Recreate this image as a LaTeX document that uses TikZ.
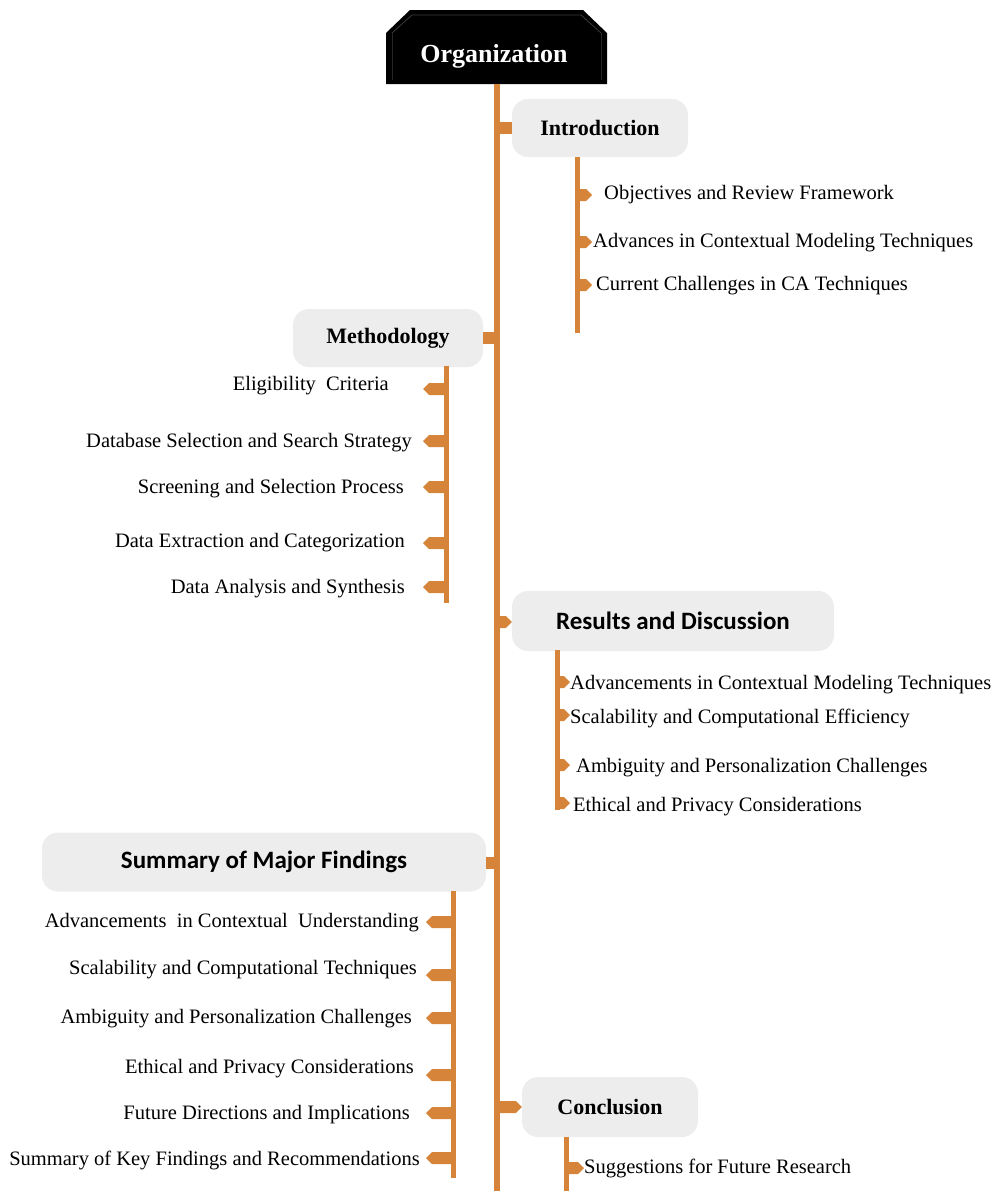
\documentclass[tikz,border=0pt]{standalone}
\usepackage{fontspec}
\setmainfont{Liberation Serif}
\newfontfamily\headsans{Carlito}
\usetikzlibrary{calc}
\definecolor{branch}{HTML}{D6843A}
\definecolor{boxgray}{HTML}{EDEDED}

% pointed stub: from the bar at #1 towards the tip at #2 (same height)
\newcommand\stubtip[2]{%
  \fill[branch] let \p1=(#1), \p2=(#2), \n1={ifthenelse(\x2>\x1,1,-1)} in
    (\x1,\y1+6pt) -- (\x2-\n1*6pt,\y1+6pt) -- (\x2,\y1) --
    (\x2-\n1*6pt,\y1-6pt) -- (\x1,\y1-6pt) -- cycle;}
% flat stub: a plain thick segment between two points
\newcommand\stubflat[2]{%
  \fill[branch] let \p1=(#1), \p2=(#2) in
    (\x1,\y1+6pt) rectangle (\x2,\y1-6pt);}

\begin{document}
\begin{tikzpicture}[x=1pt,y=-1pt,
  item/.style={inner sep=0pt, font=\fontsize{20.5}{20.5}\selectfont},
  serifhead/.style={fill=boxgray, rounded corners=16pt, inner sep=0pt,
    font=\fontsize{22}{22}\selectfont\bfseries},
  sanshead/.style={fill=boxgray, rounded corners=16pt, inner sep=0pt,
    font=\headsans\fontsize{25}{25}\selectfont\bfseries},
  bar/.style={draw=branch, line width=5pt},
  trunk/.style={draw=branch, line width=6pt}]

\useasboundingbox (0,0) rectangle (997,1191);

% ---- root ----
\fill[black] (386,84) -- (386,33) -- (410,10) -- (583,10) -- (607,33) -- (607,84) -- cycle;
\draw[gray!45!black, line width=0.8pt] (392,33) -- (412,15) -- (581,15) -- (601,33);
\draw[gray!30!black, line width=0.8pt] (392,33) -- (392,80) (601,33) -- (601,80);
\node[font=\fontsize{26}{26}\selectfont\bfseries, text=white] (org) at (494,56) {Organization};
\coordinate (orgB) at (497,84);
\coordinate (trunkEnd) at (497,1191);
\draw[trunk] (orgB) -- (trunkEnd);

% tip columns
\coordinate (tipI) at (592,0);
\coordinate (tipM) at (423,0);
\coordinate (tipR) at (570,0);
\coordinate (tipS) at (426,0);
\coordinate (tipC) at (584,0);

% ---- Introduction ----
\node[serifhead, minimum width=176pt, minimum height=58pt] (intro) at (600,128) {Introduction};
\stubflat{orgB |- intro}{intro.west}
\coordinate (ibTop) at (577,157);
\coordinate (ibEnd) at (577,333);
\draw[bar] (ibTop) -- (ibEnd);
\node[item, anchor=west] (i1) at (604,195) {Objectives and Review Framework};
\node[item, anchor=west] (i2) at (593,243) {Advances in Contextual Modeling Techniques};
\node[item, anchor=west] (i3) at (596,286) {Current Challenges in CA Techniques};
\coordinate (i1s) at (0,195);
\coordinate (i2s) at (0,242);
\coordinate (i3s) at (0,285);
\foreach \nm in {i1s,i2s,i3s}{\stubtip{ibTop |- \nm}{tipI |- \nm}}

% ---- Methodology ----
\node[serifhead, minimum width=190pt, minimum height=58pt] (meth) at (388,338) {Methodology};
\stubflat{meth.east}{orgB |- meth.east}
\coordinate (mbTop) at (446,366);
\coordinate (mbEnd) at (446,603);
\draw[bar] (mbTop) -- (mbEnd);
\node[item, anchor=east] (m1) at (389,386) {Eligibility\ \ Criteria};
\node[item, anchor=east] (m2) at (412,443) {Database Selection and Search Strategy};
\node[item, anchor=east] (m3) at (404,489) {Screening and Selection Process};
\node[item, anchor=east] (m4) at (405,543) {Data Extraction and Categorization};
\node[item, anchor=east] (m5) at (405,589) {Data Analysis and Synthesis};
\coordinate (m1s) at (0,389);
\coordinate (m2s) at (0,441);
\coordinate (m3s) at (0,487);
\coordinate (m4s) at (0,543);
\coordinate (m5s) at (0,587);
\foreach \nm in {m1s,m2s,m3s,m4s,m5s}{\stubtip{mbTop |- \nm}{tipM |- \nm}}

% ---- Results and Discussion ----
\node[sanshead, minimum width=322pt, minimum height=60pt] (res) at (673,621) {Results and Discussion};
\coordinate (resJ) at (0,622);
\stubtip{orgB |- resJ}{res.west |- resJ}
\coordinate (rbTop) at (557,650);
\coordinate (rbEnd) at (557,810);
\draw[bar] (rbTop) -- (rbEnd);
\node[item, anchor=west] (r1) at (570,685) {Advancements in Contextual Modeling Techniques};
\node[item, anchor=west] (r2) at (570,718) {Scalability and Computational Efficiency};
\node[item, anchor=west] (r3) at (576,768) {Ambiguity and Personalization Challenges};
\node[item, anchor=west] (r4) at (573,807) {Ethical and Privacy Considerations};
\coordinate (r1s) at (0,682);
\coordinate (r2s) at (0,715);
\coordinate (r3s) at (0,765);
\coordinate (r4s) at (0,803);
\foreach \nm in {r1s,r2s,r3s,r4s}{\stubtip{rbTop |- \nm}{tipR |- \nm}}

% ---- Summary of Major Findings ----
\node[sanshead, minimum width=444pt, minimum height=59pt] (sum) at (264,862) {Summary of Major Findings};
\coordinate (sumJ) at (0,863);
\stubflat{sum.east |- sumJ}{orgB |- sumJ}
\coordinate (sbTop) at (453,891);
\coordinate (sbEnd) at (453,1178);
\draw[bar] (sbTop) -- (sbEnd);
\node[item, anchor=east] (s1) at (419,923) {Advancements\ \ in Contextual\ \ Understanding};
\node[item, anchor=east] (s2) at (417,970) {Scalability and Computational Techniques};
\node[item, anchor=east] (s3) at (412,1019) {Ambiguity and Personalization Challenges};
\node[item, anchor=east] (s4) at (414,1069) {Ethical and Privacy Considerations};
\node[item, anchor=east] (s5) at (410,1115) {Future Directions and Implications};
\node[item, anchor=east] (s6) at (420,1160) {Summary of Key Findings and Recommendations};
\coordinate (s1s) at (0,922);
\coordinate (s2s) at (0,975);
\coordinate (s3s) at (0,1018);
\coordinate (s4s) at (0,1075);
\coordinate (s5s) at (0,1113);
\coordinate (s6s) at (0,1158);
\foreach \nm in {s1s,s2s,s3s,s4s,s5s,s6s}{\stubtip{sbTop |- \nm}{tipS |- \nm}}

% ---- Conclusion ----
\node[serifhead, minimum width=176pt, minimum height=60pt] (conc) at (610,1107) {Conclusion};
\stubtip{orgB |- conc.west}{conc.west}
\coordinate (cbTop) at (566,1137);
\coordinate (cbEnd) at (566,1191);
\draw[bar] (cbTop) -- (cbEnd);
\node[item, anchor=west] (c1) at (584,1168) {Suggestions for Future Research};
\coordinate (c1s) at (0,1168);
\stubtip{cbTop |- c1s}{tipC |- c1s}

\end{tikzpicture}
\end{document}
